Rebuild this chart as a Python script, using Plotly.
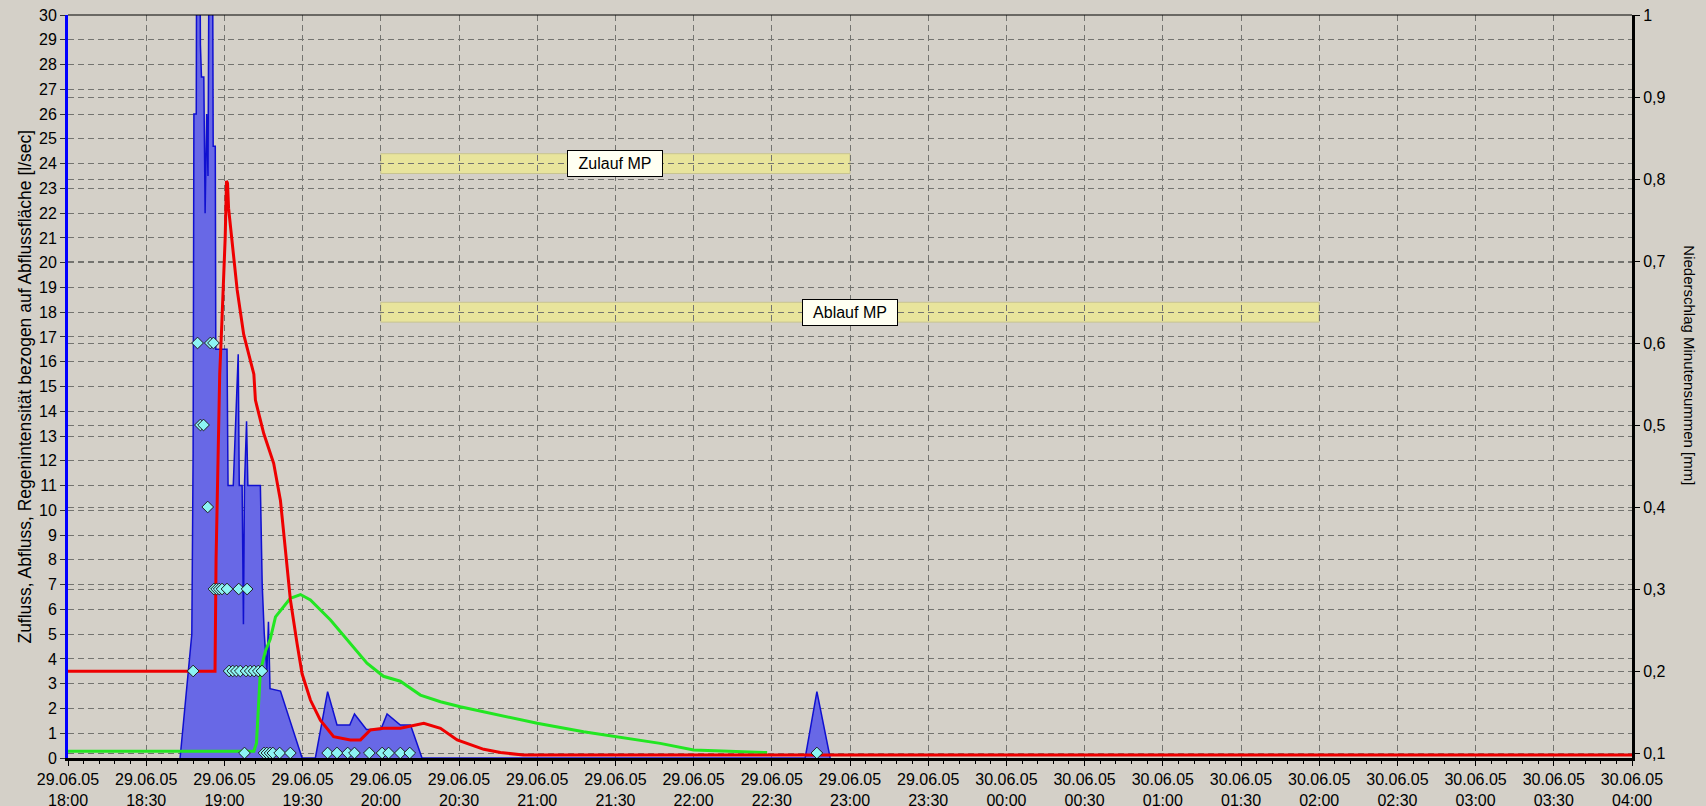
import pandas as pd
import plotly.graph_objects as go

START = pd.Timestamp("2005-06-29 18:00")

# ---- data (minutes after 29.06.05 18:00) ----
rain_min = [43, 45, 47.5, 48, 48.3, 49.2, 49.4, 50.5, 50.8, 51.2, 52.1, 52.6, 53.2, 53.7, 54.2,
            55.4, 55.7, 56.5, 56.7, 61.0, 61.4, 63.4, 64.2, 65.3, 65.7, 66.8, 67.3, 67.7, 68.5,
            69.0, 73.8, 74.5, 75.3, 76.3, 76.9, 77.5, 81.5, 89.8, 94.9, 99.6, 103.2, 108.1,
            109.9, 113.4, 114.5, 120.0, 122.4, 127.5, 131.4, 135.8, 282.8, 287.3, 292.4]
rain_val = [0, 2.3, 5.0, 12.3, 26.0, 26.0, 35, 35, 28.8, 27.5, 27.5, 22.0, 26.0, 23.5, 35,
            35, 24.7, 24.7, 16.5, 16.5, 11.0, 11.0, 13.0, 16.3, 11.0, 11.0, 5.4, 11.0, 13.6,
            11.0, 11.0, 7.0, 5.0, 3.5, 5.5, 2.8, 2.7, 0, 0, 2.68, 1.33, 1.33,
            1.78, 1.33, 1.15, 1.15, 1.78, 1.33, 1.33, 0, 0, 2.68, 0]

abfluss_min = [0, 56.4, 56.8, 57.5, 58.2, 59.0, 59.8, 60.3, 60.8, 61.2, 61.6, 62.5, 63.6, 64.9,
               67.4, 71.3, 71.9, 75.1, 78.9, 81.5, 83.4, 85.3, 87.9, 89.8, 93.0, 96.8, 101.9,
               108.3, 112.2, 116.0, 121.0, 127.5, 136.5, 142.9, 149.3, 159.5, 165.9, 174.7, 600]
abfluss_val = [3.5, 3.5, 8.0, 12.0, 15.5, 17.5, 19.5, 21.0, 23.3, 23.2, 22.2, 21.3, 20.1, 18.9,
               17.1, 15.5, 14.45, 13.1, 11.9, 10.4, 8.4, 6.4, 4.6, 3.4, 2.34, 1.53, 0.86,
               0.73, 0.73, 1.13, 1.2, 1.2, 1.4, 1.2, 0.73, 0.35, 0.22, 0.12, 0.12]

zufluss_min = [0, 71.3, 72.3, 73.8, 75.7, 77.6, 79.6, 82.8, 85.3, 89.2, 93.0, 100.7, 108.3,
               114.7, 121.0, 127.5, 135.2, 142.9, 150.5, 165.9, 180.0, 197.8, 210.6, 227.2,
               240.0, 255.3, 268.2]
zufluss_val = [0.27, 0.27, 0.6, 3.5, 4.3, 4.8, 5.7, 6.1, 6.45, 6.6, 6.38, 5.57, 4.64,
               3.83, 3.3, 3.1, 2.54, 2.27, 2.07, 1.72, 1.4, 1.06, 0.86, 0.59,
               0.32, 0.25, 0.22]

nieder_min = [48.0, 49.7, 50.8, 52.0, 53.6, 54.6, 55.8, 56.0, 57.0, 58.0, 59.1, 61.0, 61.8,
              63.2, 64.6, 65.5, 66.1, 67.7, 68.3, 68.7, 69.9, 71.4, 73.0, 74.4, 75.2, 76.3,
              77.5, 78.6, 81.2, 85.3, 99.6, 103.2, 107.3, 109.9, 115.6, 120.5, 123.0, 127.5,
              131.1, 287.3]
nieder_val = [0.2, 0.6, 0.5, 0.5, 0.4, 0.6, 0.6, 0.3, 0.3, 0.3, 0.3, 0.3, 0.2,
              0.2, 0.2, 0.3, 0.2, 0.1, 0.2, 0.3, 0.2, 0.2, 0.2, 0.2, 0.1, 0.1,
              0.1, 0.1, 0.1, 0.1, 0.1, 0.1, 0.1, 0.1, 0.1, 0.1, 0.1, 0.1,
              0.1, 0.1]

period_labels = ["Zulauf MP", "Ablauf MP"]
period_start_min = [120, 120]
period_end_min = [300, 480]
period_level = [24, 18]

tick_minutes = [0, 30, 60, 90, 120, 150, 180, 210, 240, 270, 300, 330, 360, 390, 420,
                450, 480, 510, 540, 570, 600]
tick_labels = ["29.06.05<br>18:00", "29.06.05<br>18:30", "29.06.05<br>19:00", "29.06.05<br>19:30",
               "29.06.05<br>20:00", "29.06.05<br>20:30", "29.06.05<br>21:00", "29.06.05<br>21:30",
               "29.06.05<br>22:00", "29.06.05<br>22:30", "29.06.05<br>23:00", "29.06.05<br>23:30",
               "30.06.05<br>00:00", "30.06.05<br>00:30", "30.06.05<br>01:00", "30.06.05<br>01:30",
               "30.06.05<br>02:00", "30.06.05<br>02:30", "30.06.05<br>03:00", "30.06.05<br>03:30",
               "30.06.05<br>04:00"]


def ts(mins):
    return [START + pd.Timedelta(minutes=m) for m in mins]


BG = "#D4D0C8"
GRID = "#747470"
FONT = "Liberation Sans"

fig = go.Figure()
fig.add_trace(go.Scatter(x=ts(rain_min), y=rain_val, mode="lines", fill="tozeroy",
                         fillcolor="#6868E6", line=dict(color="#1010D0", width=1.5),
                         name="Regenintensität"))
fig.add_trace(go.Scatter(x=ts(zufluss_min), y=zufluss_val, mode="lines",
                         line=dict(color="#22E622", width=3), name="Zufluss"))
fig.add_trace(go.Scatter(x=ts(abfluss_min), y=abfluss_val, mode="lines",
                         line=dict(color="#EE0000", width=3), name="Abfluss"))
fig.add_trace(go.Scatter(x=ts(nieder_min), y=nieder_val, mode="markers", yaxis="y2",
                         marker=dict(symbol="diamond", size=9, color="#8CF4F4",
                                     line=dict(color="#202020", width=1)),
                         name="Niederschlag"))

shapes = []
annotations = []
for lab, s, e, lev in zip(period_labels, period_start_min, period_end_min, period_level):
    x0, x1 = ts([s, e])
    shapes.append(dict(type="rect", xref="x", yref="y", x0=x0, x1=x1, y0=lev - 0.4, y1=lev + 0.4,
                       fillcolor="#E8E49C", line=dict(color="#C8C490", width=1), layer="below"))
    xm = ts([(s + e) / 2])[0]
    annotations.append(dict(x=xm, y=lev, xref="x", yref="y", text=lab, showarrow=False,
                            font=dict(family=FONT, size=16, color="black"),
                            bgcolor="#FFFFF2", bordercolor="black", borderwidth=1,
                            borderpad=2, width=90, height=21))

shapes.append(dict(type="line", xref="paper", yref="paper", x0=0, x1=1, y0=1, y1=1,
                   line=dict(color="black", width=1), layer="above"))

annotations.append(dict(xref="paper", yref="paper", x=-0.0281, y=0.5, textangle=-90,
                        text="Zufluss, Abfluss, Regenintensität bezogen auf Abflussfläche [l/sec]",
                        showarrow=False, font=dict(family=FONT, size=17.5, color="black"),
                        xanchor="center", yanchor="middle"))
annotations.append(dict(xref="paper", yref="paper", x=1.0371, y=0.5285, textangle=90,
                        text="Niederschlag Minutensummen [mm]",
                        showarrow=False, font=dict(family=FONT, size=15, color="black"),
                        xanchor="center", yanchor="middle"))

grid = dict(showgrid=True, gridcolor=GRID, gridwidth=1, griddash="6px,4px")

fig.update_layout(
    width=1706, height=806,
    margin=dict(l=68, r=74, t=15, b=48, autoexpand=False),
    paper_bgcolor=BG, plot_bgcolor=BG,
    showlegend=False,
    separators=",.",
    font=dict(family=FONT, size=16, color="black"),
    shapes=shapes, annotations=annotations,
    xaxis=dict(type="date", range=[START, START + pd.Timedelta(hours=10)],
               tickmode="array", tickvals=ts(tick_minutes), ticktext=tick_labels,
               ticks="outside", ticklen=5, tickcolor="black",
               showline=True, linecolor="black", linewidth=3,
               minor=dict(tickmode="linear", tick0=START, dtick=6 * 60 * 1000, ticks="outside",
                          ticklen=3, tickcolor="black", showgrid=False),
               tickfont=dict(family=FONT, size=16, color="black"), zeroline=False, **grid),
    yaxis=dict(range=[0, 30], tick0=0, dtick=1, ticks="outside", ticklen=5, tickcolor="#333333",
               showline=True, linecolor="#0000FF", linewidth=3, zeroline=False,
               tickfont=dict(family=FONT, size=16, color="black"), **grid),
    yaxis2=dict(range=[0.0939, 1.0], tick0=0.1, dtick=0.1, overlaying="y", side="right",
                ticks="outside", ticklen=5, tickcolor="black",
                showline=True, linecolor="black", linewidth=3, zeroline=False,
                tickfont=dict(family=FONT, size=16, color="black"), **grid),
)

fig.write_html("out.html", config={"displayModeBar": False},
               post_script="document.body.style.margin='0px';"
                           "document.body.style.background='#D4D0C8';"
                           "document.body.style.overflow='hidden';")
